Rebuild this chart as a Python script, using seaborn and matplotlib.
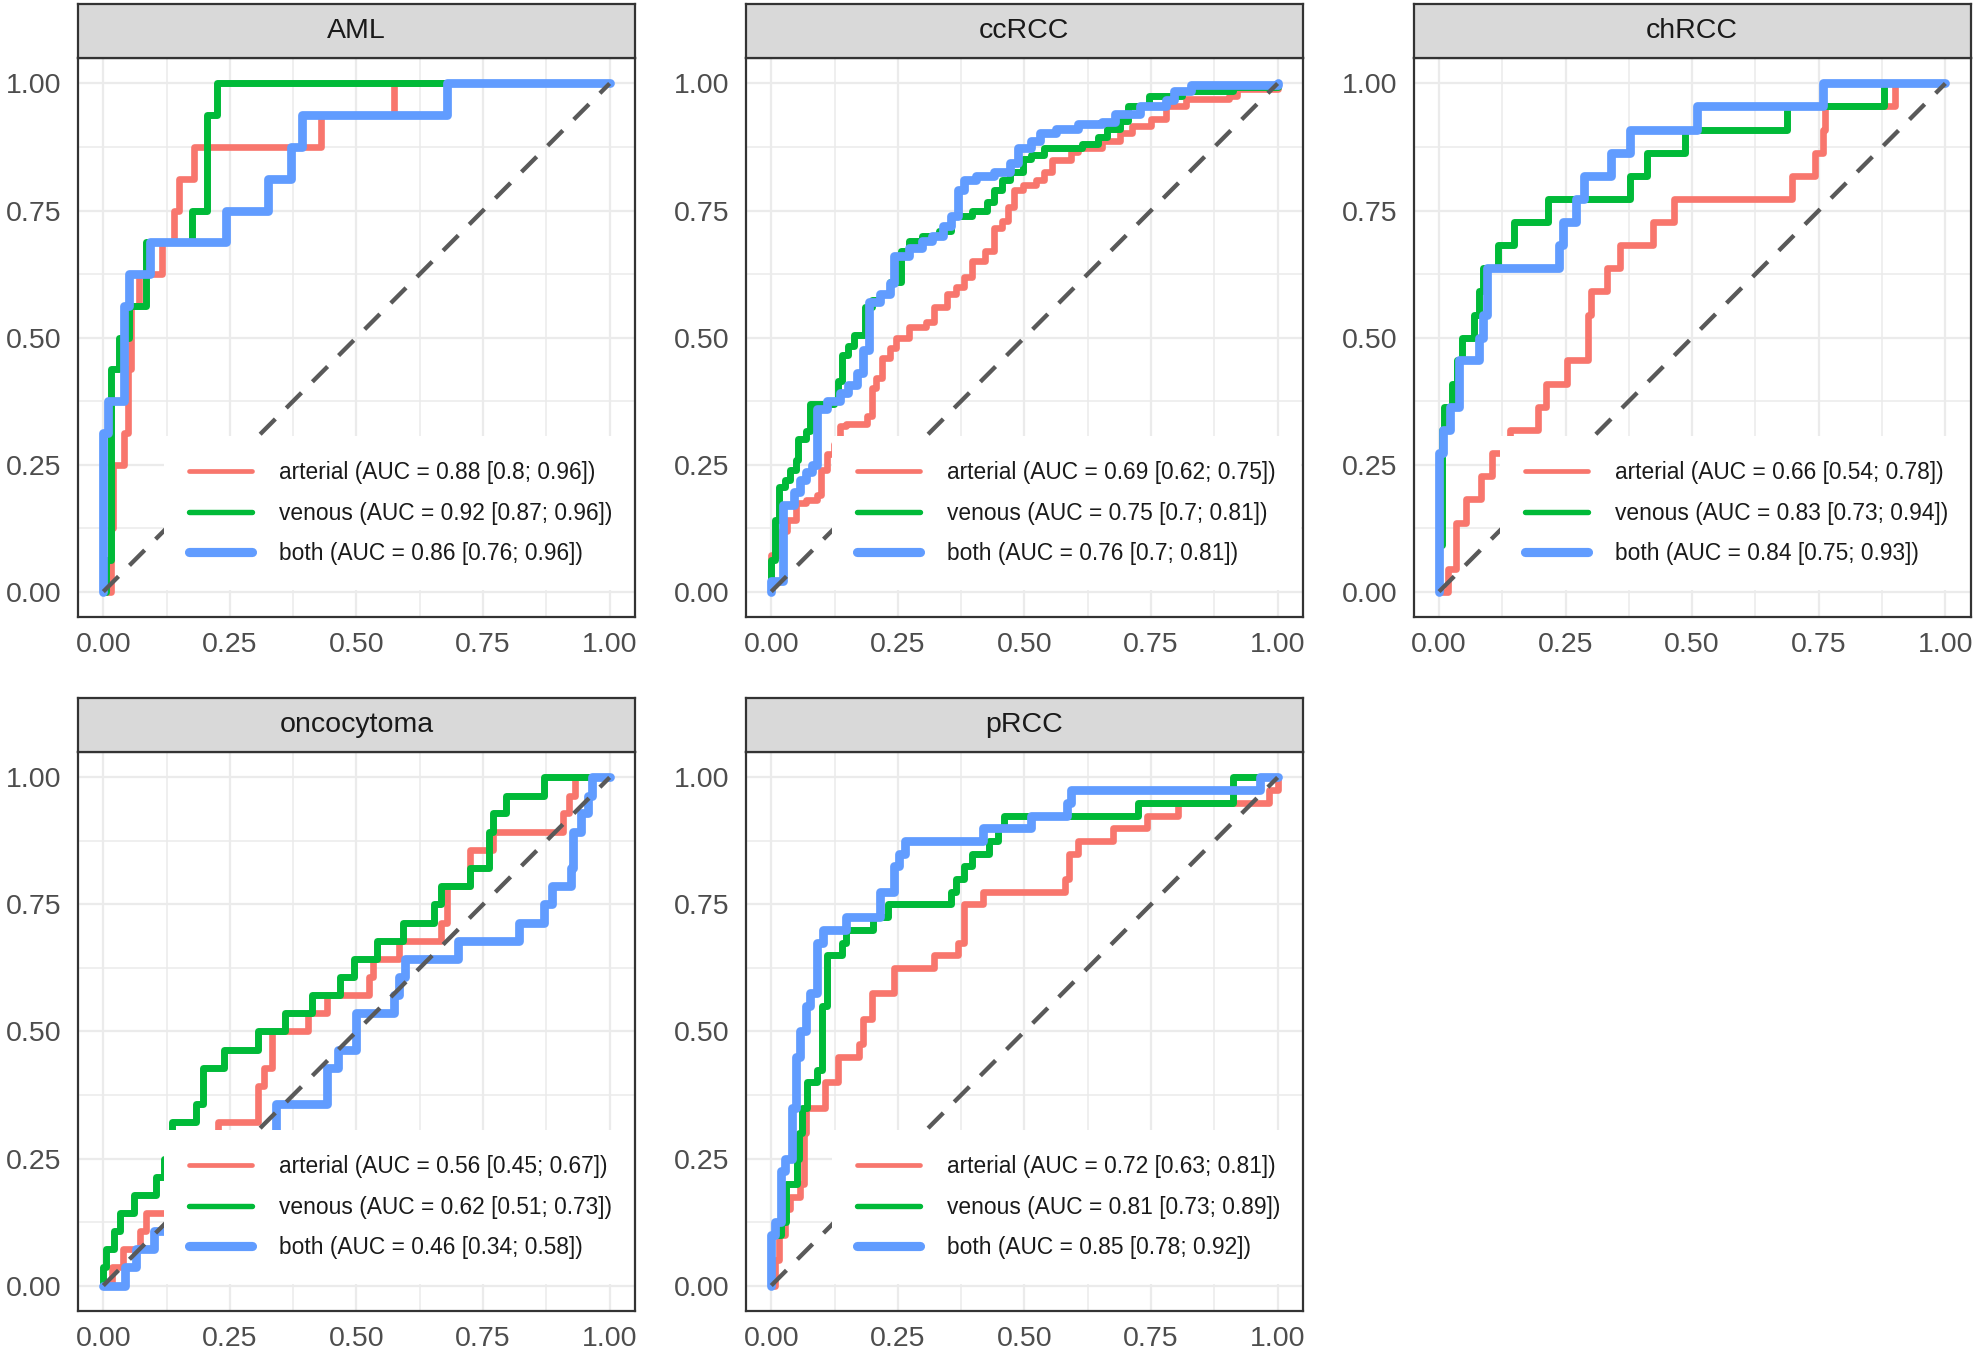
import pandas as pd
import seaborn as sns
import matplotlib.pyplot as plt
from matplotlib.lines import Line2D

# ---- data (fpr = 1 - specificity, tpr = sensitivity) ----
panels = ["AML", "ccRCC", "chRCC", "oncocytoma", "pRCC"]
phases = ["arterial", "venous", "both"]

auc_arterial = ["0.88 [0.8; 0.96]", "0.69 [0.62; 0.75]", "0.66 [0.54; 0.78]",
                "0.56 [0.45; 0.67]", "0.72 [0.63; 0.81]"]
auc_venous = ["0.92 [0.87; 0.96]", "0.75 [0.7; 0.81]", "0.83 [0.73; 0.94]",
              "0.62 [0.51; 0.73]", "0.81 [0.73; 0.89]"]
auc_both = ["0.86 [0.76; 0.96]", "0.76 [0.7; 0.81]", "0.84 [0.75; 0.93]",
            "0.46 [0.34; 0.58]", "0.85 [0.78; 0.92]"]

aml_art_x = [0, 0.015, 0.02, 0.04, 0.048, 0.055, 0.07, 0.115, 0.14, 0.15, 0.18, 0.43, 0.575, 1.0]
aml_art_y = [0, 0.125, 0.25, 0.3125, 0.4375, 0.5625, 0.625, 0.6875, 0.75, 0.8125, 0.875, 0.9375, 1.0, 1.0]
aml_ven_x = [0, 0.005, 0.015, 0.03, 0.05, 0.085, 0.175, 0.205, 0.225, 1.0]
aml_ven_y = [0, 0.0625, 0.4375, 0.5, 0.5625, 0.6875, 0.75, 0.9375, 1.0, 1.0]
aml_both_x = [0, 0.0, 0.01, 0.04, 0.05, 0.093, 0.243, 0.326, 0.371, 0.392, 0.679, 1.0]
aml_both_y = [0, 0.3125, 0.375, 0.5625, 0.625, 0.6875, 0.75, 0.8125, 0.875, 0.9375, 1.0, 1.0]

cc_art_x = [0, 0.0, 0.019, 0.032, 0.048, 0.069, 0.09, 0.098, 0.11, 0.123, 0.135, 0.148, 0.189,
            0.198, 0.206, 0.218, 0.235, 0.247, 0.272, 0.306, 0.322, 0.347, 0.364, 0.38, 0.397,
            0.422, 0.439, 0.455, 0.468, 0.48, 0.497, 0.522, 0.538, 0.555, 0.592, 0.605, 0.654,
            0.688, 0.713, 0.75, 0.779, 0.82, 0.904, 0.92, 1.0]
cc_art_y = [0, 0.072, 0.12, 0.14, 0.175, 0.18, 0.19, 0.24, 0.27, 0.29, 0.325, 0.33, 0.345,
            0.40, 0.42, 0.46, 0.48, 0.50, 0.52, 0.53, 0.56, 0.586, 0.60, 0.62, 0.65,
            0.67, 0.715, 0.73, 0.757, 0.79, 0.80, 0.81, 0.826, 0.85, 0.865, 0.873, 0.886,
            0.903, 0.916, 0.93, 0.955, 0.97, 0.976, 0.99, 1.0]
cc_ven_x = [0, 0.0, 0.007, 0.015, 0.027, 0.036, 0.048, 0.052, 0.069, 0.077, 0.123, 0.131, 0.14,
            0.152, 0.164, 0.185, 0.198, 0.214, 0.235, 0.256, 0.272, 0.297, 0.331, 0.355, 0.397,
            0.426, 0.439, 0.455, 0.472, 0.497, 0.513, 0.538, 0.613, 0.646, 0.663, 0.688, 0.704,
            0.746, 0.812, 0.912, 1.0]
cc_ven_y = [0, 0.063, 0.14, 0.205, 0.22, 0.24, 0.26, 0.30, 0.316, 0.37, 0.376, 0.415, 0.466,
            0.483, 0.505, 0.56, 0.573, 0.586, 0.61, 0.67, 0.69, 0.70, 0.71, 0.74, 0.75,
            0.766, 0.79, 0.81, 0.826, 0.852, 0.86, 0.873, 0.88, 0.895, 0.91, 0.926, 0.956,
            0.975, 0.985, 0.993, 1.0]
cc_both_x = [0, 0, 0.023, 0.044, 0.056, 0.069, 0.081, 0.09, 0.11, 0.135, 0.152, 0.169, 0.181,
             0.194, 0.214, 0.235, 0.243, 0.272, 0.297, 0.318, 0.339, 0.355, 0.368, 0.38, 0.405,
             0.439, 0.472, 0.488, 0.513, 0.53, 0.563, 0.605, 0.654, 0.679, 0.729, 0.779, 0.796,
             0.829, 1.0]
cc_both_y = [0, 0.02, 0.17, 0.196, 0.22, 0.235, 0.25, 0.36, 0.376, 0.39, 0.406, 0.43, 0.475,
             0.57, 0.586, 0.607, 0.66, 0.676, 0.69, 0.70, 0.72, 0.74, 0.79, 0.81, 0.817,
             0.826, 0.843, 0.873, 0.886, 0.903, 0.91, 0.92, 0.925, 0.94, 0.955, 0.967, 0.985,
             0.997, 1.0]

ch_art_x = [0, 0.017, 0.033, 0.054, 0.083, 0.104, 0.141, 0.195, 0.211, 0.253, 0.294, 0.3,
            0.332, 0.357, 0.423, 0.464, 0.697, 0.742, 0.759, 0.763, 0.9, 1.0]
ch_art_y = [0, 0.045, 0.136, 0.182, 0.227, 0.273, 0.318, 0.364, 0.409, 0.455, 0.545, 0.591,
            0.636, 0.682, 0.727, 0.773, 0.818, 0.864, 0.909, 0.955, 1.0, 1.0]
ch_ven_x = [0, 0.0, 0.005, 0.01, 0.025, 0.035, 0.046, 0.07, 0.079, 0.087, 0.116, 0.149, 0.216,
            0.377, 0.41, 0.485, 0.688, 0.879, 1.0]
ch_ven_y = [0, 0.091, 0.318, 0.364, 0.409, 0.455, 0.5, 0.545, 0.591, 0.636, 0.682, 0.727, 0.773,
            0.818, 0.864, 0.909, 0.955, 1.0, 1.0]
ch_both_x = [0, 0.0, 0.008, 0.021, 0.04, 0.079, 0.087, 0.095, 0.236, 0.245, 0.27, 0.286, 0.34,
             0.377, 0.51, 0.759, 1.0]
ch_both_y = [0, 0.273, 0.318, 0.364, 0.455, 0.5, 0.545, 0.636, 0.682, 0.727, 0.773, 0.818, 0.864,
             0.909, 0.955, 1.0, 1.0]

onc_art_x = [0, 0.018, 0.039, 0.072, 0.085, 0.2, 0.226, 0.305, 0.317, 0.334, 0.405, 0.442,
             0.525, 0.533, 0.583, 0.666, 0.679, 0.724, 0.77, 0.907, 0.919, 0.932, 1.0]
onc_art_y = [0, 0.036, 0.071, 0.107, 0.143, 0.25, 0.321, 0.393, 0.429, 0.5, 0.536, 0.571,
             0.607, 0.643, 0.679, 0.714, 0.786, 0.857, 0.893, 0.929, 0.964, 1.0, 1.0]
onc_ven_x = [0, 0.0, 0.006, 0.022, 0.033, 0.06, 0.105, 0.12, 0.135, 0.184, 0.197, 0.238, 0.305,
             0.359, 0.413, 0.467, 0.496, 0.541, 0.591, 0.654, 0.666, 0.724, 0.762, 0.77, 0.795,
             0.87, 1.0]
onc_ven_y = [0, 0.036, 0.071, 0.107, 0.143, 0.179, 0.214, 0.25, 0.321, 0.357, 0.429, 0.464, 0.5,
             0.536, 0.571, 0.607, 0.643, 0.679, 0.714, 0.75, 0.786, 0.821, 0.893, 0.929, 0.964,
             1.0, 1.0]
onc_both_x = [0, 0.043, 0.064, 0.101, 0.2, 0.313, 0.342, 0.442, 0.463, 0.5, 0.575, 0.583,
              0.596, 0.7, 0.82, 0.87, 0.886, 0.924, 0.928, 0.944, 0.957, 0.965, 1.0]
onc_both_y = [0, 0.036, 0.071, 0.107, 0.179, 0.286, 0.357, 0.429, 0.464, 0.536, 0.571, 0.607,
              0.643, 0.679, 0.714, 0.75, 0.786, 0.821, 0.893, 0.929, 0.964, 1.0, 1.0]

pr_art_x = [0, 0.007, 0.015, 0.027, 0.036, 0.056, 0.065, 0.069, 0.106, 0.131, 0.173, 0.181,
            0.198, 0.243, 0.322, 0.368, 0.38, 0.418, 0.58, 0.588, 0.605, 0.675, 0.742, 0.804,
            0.983, 1.0]
pr_art_y = [0, 0.05, 0.1, 0.15, 0.175, 0.2, 0.3, 0.35, 0.4, 0.45, 0.475, 0.525,
            0.575, 0.625, 0.65, 0.675, 0.75, 0.775, 0.8, 0.85, 0.875, 0.9, 0.925, 0.95,
            0.975, 1.0]
pr_ven_x = [0, 0.0, 0.02, 0.03, 0.05, 0.055, 0.06, 0.07, 0.09, 0.1, 0.11, 0.14, 0.148, 0.2,
            0.231, 0.355, 0.364, 0.38, 0.397, 0.43, 0.447, 0.459, 0.725, 0.912, 1.0]
pr_ven_y = [0, 0.1, 0.125, 0.2, 0.25, 0.3, 0.35, 0.4, 0.425, 0.55, 0.65, 0.675, 0.7, 0.725,
            0.75, 0.775, 0.8, 0.825, 0.85, 0.875, 0.9, 0.925, 0.95, 1.0, 1.0]
pr_both_x = [0, 0.0, 0.007, 0.019, 0.027, 0.04, 0.048, 0.056, 0.069, 0.077, 0.09, 0.102, 0.148,
             0.214, 0.243, 0.252, 0.264, 0.418, 0.513, 0.584, 0.592, 0.966, 1.0]
pr_both_y = [0, 0.1, 0.125, 0.225, 0.25, 0.35, 0.45, 0.5, 0.55, 0.575, 0.675, 0.7, 0.725,
             0.775, 0.825, 0.85, 0.875, 0.9, 0.925, 0.95, 0.975, 1.0, 1.0]

diag = [0, 1]
ticks = [0, 0.25, 0.5, 0.75, 1.0]

curves = {
    "AML": [(aml_art_x, aml_art_y), (aml_ven_x, aml_ven_y), (aml_both_x, aml_both_y)],
    "ccRCC": [(cc_art_x, cc_art_y), (cc_ven_x, cc_ven_y), (cc_both_x, cc_both_y)],
    "chRCC": [(ch_art_x, ch_art_y), (ch_ven_x, ch_ven_y), (ch_both_x, ch_both_y)],
    "oncocytoma": [(onc_art_x, onc_art_y), (onc_ven_x, onc_ven_y), (onc_both_x, onc_both_y)],
    "pRCC": [(pr_art_x, pr_art_y), (pr_ven_x, pr_ven_y), (pr_both_x, pr_both_y)],
}

rows = []
for p in panels:
    for ph, (xs, ys) in zip(phases, curves[p]):
        for i, (a, b) in enumerate(zip(xs, ys)):
            rows.append({"panel": p, "phase": ph, "order": i, "fpr": a, "tpr": b})
df = pd.DataFrame(rows)

colors = {"arterial": "#F8766D", "venous": "#00BA38", "both": "#619CFF"}
widths = {"arterial": 4.8, "venous": 5.0, "both": 6.3}       # curves
key_widths = {"arterial": 3.4, "venous": 3.9, "both": 6.6}   # legend keys

sns.set_theme(style="white")
plt.rcParams["font.family"] = ["Liberation Sans", "DejaVu Sans"]

fig = plt.figure(figsize=(19.75, 13.54), dpi=100)

lefts = [0.0395, 0.3777, 0.7158]
bottoms = [0.5443, 0.0318]
w, h, strip_h = 0.2820, 0.4128, 0.0399
dark = "#333333"

for k, p in enumerate(panels):
    l = lefts[k % 3]
    b = bottoms[k // 3]
    ax = fig.add_axes([l, b, w, h])
    sub = df[df.panel == p]
    sns.lineplot(data=sub, x="fpr", y="tpr", hue="phase", hue_order=phases,
                 palette=colors, size="phase", size_order=phases, sizes=widths,
                 estimator=None, sort=False, drawstyle="steps-post",
                 legend=False, ax=ax)
    ax.plot(diag, diag, color="#595959", lw=3.1, dashes=(5.0, 3.6), zorder=3)

    ax.set_xlim(-0.05, 1.05)
    ax.set_ylim(-0.05, 1.05)
    ax.set_xticks(ticks)
    ax.set_yticks(ticks)
    ax.set_xticklabels(["{:.2f}".format(t) for t in ticks])
    ax.set_yticklabels(["{:.2f}".format(t) for t in ticks])
    ax.set_xticks([0.125, 0.375, 0.625, 0.875], minor=True)
    ax.set_yticks([0.125, 0.375, 0.625, 0.875], minor=True)
    ax.set(xlabel="", ylabel="")
    ax.set_axisbelow(True)
    ax.grid(True, which="major", color="#EBEBEB", lw=1.6)
    ax.grid(True, which="minor", color="#EBEBEB", lw=1.1)
    ax.tick_params(which="major", direction="out", length=6.5, width=1.6, color=dark,
                   labelsize=20.5, labelcolor="#4D4D4D")
    ax.tick_params(axis="x", which="major", pad=4)
    ax.tick_params(axis="y", which="major", pad=5.5)
    ax.tick_params(which="minor", length=0)
    for s in ax.spines.values():
        s.set_color(dark)
        s.set_linewidth(1.6)
        s.set_zorder(6)

    labels = ["arterial (AUC = {})".format(auc_arterial[k]),
              "venous (AUC = {})".format(auc_venous[k]),
              "both (AUC = {})".format(auc_both[k])]
    handles = [Line2D([], [], color=colors[ph], lw=key_widths[ph]) for ph in phases]
    leg = ax.legend(handles, labels, loc="lower left", bbox_to_anchor=(0.155, 0.048),
                    frameon=True, facecolor="white", edgecolor="none", framealpha=1,
                    fontsize=16.4, handlelength=2.76, handletextpad=1.18,
                    labelspacing=0.77, borderpad=1.1, borderaxespad=0)
    leg.get_frame().set_boxstyle("square", pad=0)
    for t in leg.get_texts():
        t.set_color("#1A1A1A")

    # facet strip
    sax = fig.add_axes([l, b + h, w, strip_h])
    sax.set_facecolor("#D9D9D9")
    sax.set_xticks([])
    sax.set_yticks([])
    for s in sax.spines.values():
        s.set_color(dark)
        s.set_linewidth(1.6)
    sax.text(0.5, 0.5, p, ha="center", va="center", fontsize=20.5,
             color="#1A1A1A", transform=sax.transAxes)

fig.savefig("out.png", dpi=100)
